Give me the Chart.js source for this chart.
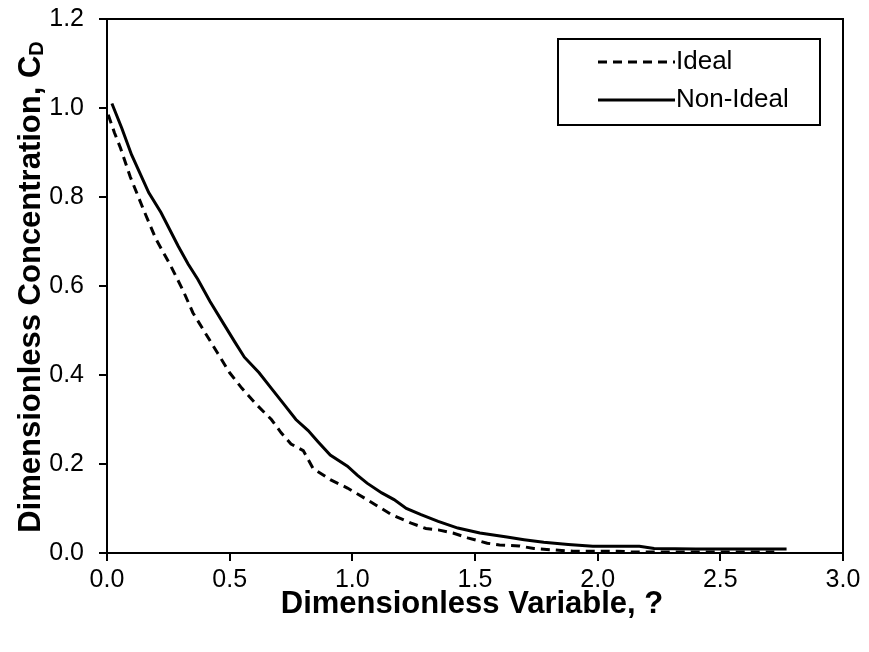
<!DOCTYPE html>
<html>
<head>
<meta charset="utf-8">
<script src="https://cdn.jsdelivr.net/npm/chart.js@4.4.1/dist/chart.umd.min.js"></script>
<style>
  html, body { margin: 0; padding: 0; background: #fff; }
  #wrap { width: 869px; height: 652px; }
</style>
</head>
<body>
<div id="wrap"><canvas id="cdChart" width="869" height="652"></canvas></div>
<script>
// values
const idealX = [0.005, 0.03, 0.055, 0.095, 0.15, 0.20, 0.26, 0.31, 0.35, 0.40, 0.45, 0.50, 0.55, 0.61, 0.67, 0.71, 0.75, 0.80, 0.84, 0.91, 0.98, 1.06, 1.16, 1.24, 1.30, 1.35, 1.41, 1.47, 1.55, 1.60, 1.68, 1.74, 1.82, 1.90, 2.08, 2.15, 2.40, 2.72];
const idealY = [0.985, 0.945, 0.91, 0.845, 0.77, 0.705, 0.645, 0.59, 0.54, 0.495, 0.45, 0.405, 0.37, 0.333, 0.30, 0.27, 0.245, 0.23, 0.19, 0.165, 0.146, 0.12, 0.086, 0.067, 0.055, 0.052, 0.045, 0.034, 0.022, 0.018, 0.016, 0.01, 0.007, 0.004, 0.004, 0.002, 0.002, 0.002];

const nonIdealX = [0.02, 0.06, 0.10, 0.17, 0.22, 0.29, 0.33, 0.37, 0.42, 0.47, 0.52, 0.56, 0.62, 0.67, 0.72, 0.77, 0.82, 0.86, 0.91, 0.98, 1.02, 1.06, 1.12, 1.17, 1.22, 1.28, 1.35, 1.43, 1.52, 1.63, 1.70, 1.78, 1.88, 1.98, 2.07, 2.17, 2.23, 2.40, 2.60, 2.77];
const nonIdealY = [1.01, 0.955, 0.895, 0.81, 0.765, 0.69, 0.65, 0.615, 0.565, 0.52, 0.475, 0.44, 0.405, 0.37, 0.335, 0.30, 0.275, 0.25, 0.22, 0.195, 0.175, 0.157, 0.135, 0.12, 0.10, 0.086, 0.071, 0.056, 0.045, 0.036, 0.03, 0.024, 0.019, 0.015, 0.015, 0.015, 0.01, 0.009, 0.009, 0.009];

const seriesLabels = ['Ideal', 'Non-Ideal'];
const xTitle = 'Dimensionless Variable, ?';
const yTitle = 'Dimensionless Concentration, C';
const yTitleSub = 'D';

const tickFont = { family: 'Liberation Sans, Arial, sans-serif', size: 25 };

function toPoints(xs, ys) {
    return xs.map((x, i) => ({ x: x, y: ys[i] }));
}

// frame on top/right + axis titles + boxed legend
const extras = {
    id: 'extras',
    afterDraw(chart) {
        const c = chart.ctx;
        const a = chart.chartArea;
        c.save();
        c.strokeStyle = '#000';
        c.lineWidth = 2;
        c.beginPath();
        c.moveTo(a.left, a.top);
        c.lineTo(a.right, a.top);
        c.lineTo(a.right, a.bottom);
        c.stroke();

        // x title
        c.fillStyle = '#000';
        c.font = 'bold 31px Liberation Sans, Arial, sans-serif';
        c.textAlign = 'center';
        c.textBaseline = 'middle';
        c.fillText(xTitle, 472, 604);

        // y title with subscript
        c.save();
        c.translate(31, 287);
        c.rotate(-Math.PI / 2);
        const mainW = c.measureText(yTitle).width;
        c.font = 'bold 20px Liberation Sans, Arial, sans-serif';
        const subW = c.measureText(yTitleSub).width;
        const startX = -(mainW + subW) / 2;
        c.font = 'bold 31px Liberation Sans, Arial, sans-serif';
        c.textAlign = 'left';
        c.fillText(yTitle, startX, 0);
        c.font = 'bold 20px Liberation Sans, Arial, sans-serif';
        c.fillText(yTitleSub, startX + mainW, 6);
        c.restore();

        // legend box
        const bx = 558, by = 39, bw = 262, bh = 86;
        c.fillStyle = '#fff';
        c.fillRect(bx, by, bw, bh);
        c.strokeRect(bx, by, bw, bh);
        c.font = '26px Liberation Sans, Arial, sans-serif';
        c.textAlign = 'left';
        c.textBaseline = 'middle';
        const rows = [62, 100];
        chart.data.datasets.forEach((ds, i) => {
            const y = rows[i];
            c.strokeStyle = ds.borderColor;
            c.lineWidth = ds.borderWidth;
            c.setLineDash(ds.borderDash || []);
            c.beginPath();
            c.moveTo(598, y);
            c.lineTo(675, y);
            c.stroke();
            c.setLineDash([]);
            c.fillStyle = '#000';
            c.fillText(ds.label, 676, y);
        });
        c.restore();
    }
};

const ctx = document.getElementById('cdChart');
const cdChart = new Chart(ctx, {
    type: 'scatter',
    data: {
        datasets: [{
            label: seriesLabels[0],
            data: toPoints(idealX, idealY),
            showLine: true,
            borderColor: '#000',
            backgroundColor: '#000',
            borderWidth: 3,
            borderDash: [9, 6],
            pointRadius: 0,
            tension: 0
        }, {
            label: seriesLabels[1],
            data: toPoints(nonIdealX, nonIdealY),
            showLine: true,
            borderColor: '#000',
            backgroundColor: '#000',
            borderWidth: 3,
            pointRadius: 0,
            tension: 0
        }]
    },
    options: {
        responsive: false,
        animation: false,
        layout: {
            padding: { top: 19, right: 26, left: 0, bottom: 0 }
        },
        plugins: {
            legend: { display: false },
            tooltip: { enabled: false }
        },
        scales: {
            x: {
                type: 'linear',
                min: 0,
                max: 3,
                afterFit: (s) => { s.height = 99; s.paddingLeft = 0; s.paddingRight = 0; },
                border: { color: '#000', width: 2 },
                grid: { display: true, drawOnChartArea: false, color: '#000', lineWidth: 2, tickLength: 8 },
                ticks: {
                    stepSize: 0.5,
                    color: '#000',
                    font: tickFont,
                    padding: 4,
                    maxRotation: 0,
                    callback: (v) => v.toFixed(1)
                }
            },
            y: {
                min: 0,
                max: 1.2,
                afterFit: (s) => { s.width = 107; s.paddingTop = 0; s.paddingBottom = 0; },
                border: { color: '#000', width: 2 },
                grid: { display: true, drawOnChartArea: false, color: '#000', lineWidth: 2, tickLength: 8 },
                ticks: {
                    stepSize: 0.2,
                    color: '#000',
                    font: tickFont,
                    padding: 15,
                    callback: (v) => v.toFixed(1)
                }
            }
        }
    },
    plugins: [extras]
});
</script>
</body>
</html>
